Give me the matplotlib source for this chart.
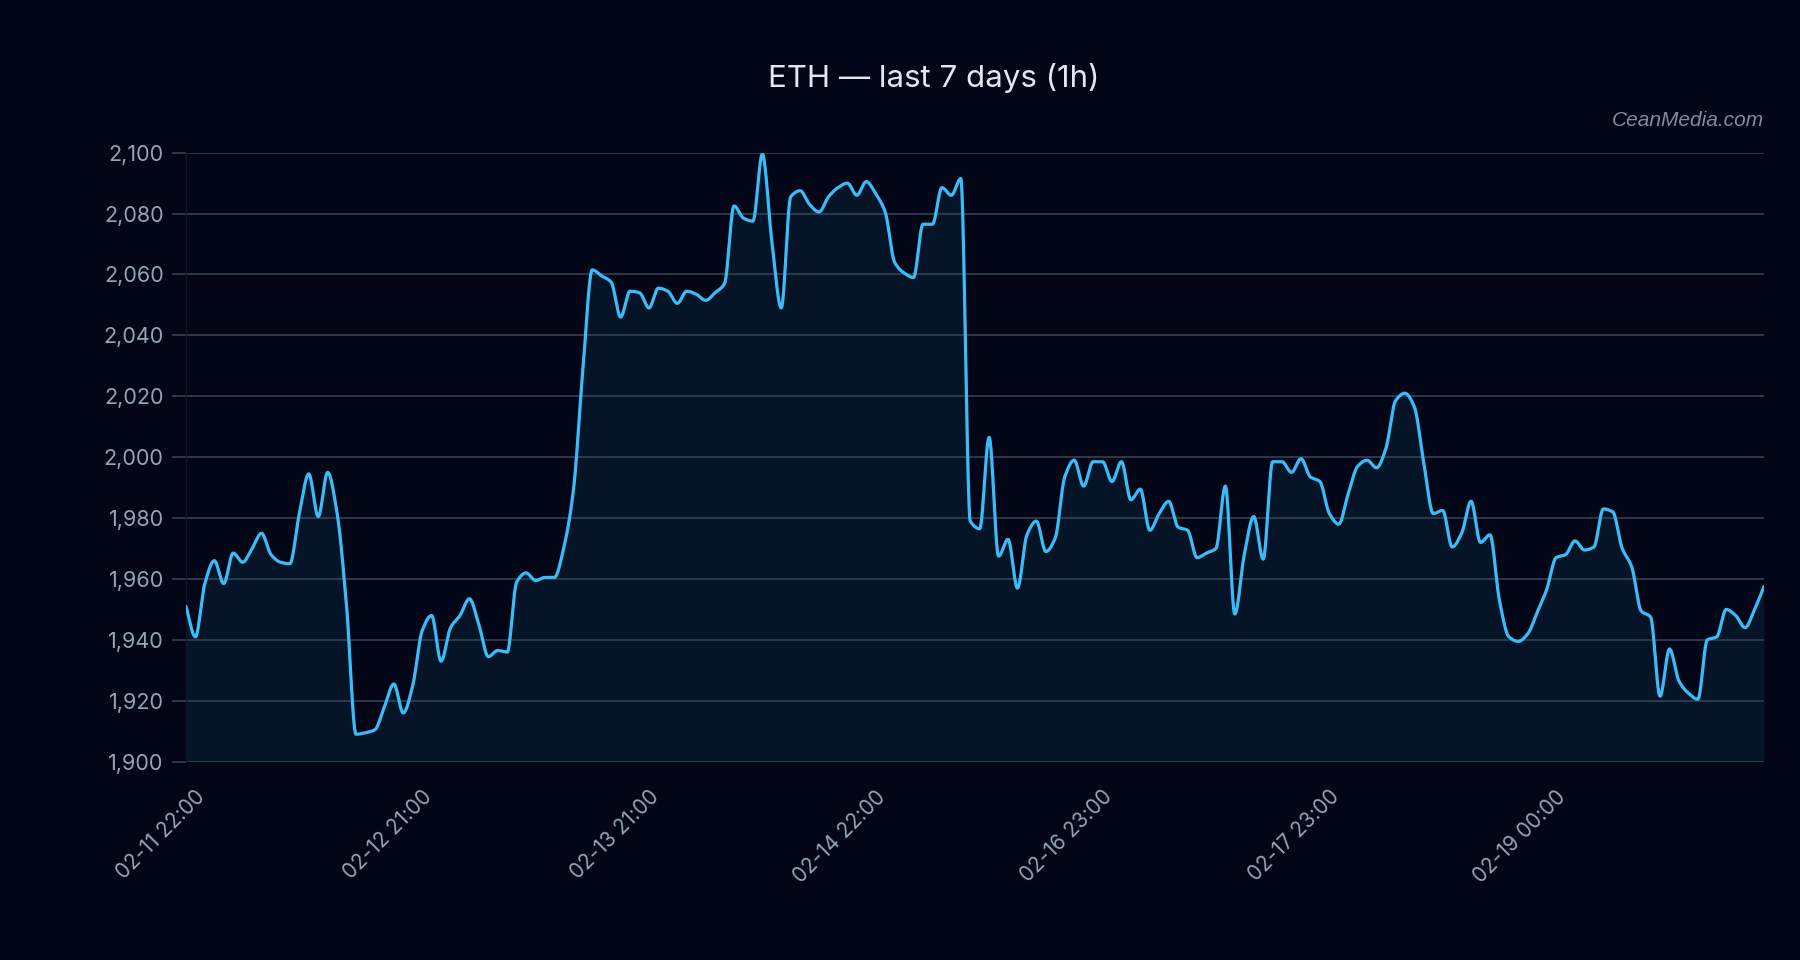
import numpy as np
import matplotlib
matplotlib.use("Agg")
import matplotlib.pyplot as plt
from matplotlib.ticker import StrMethodFormatter, MultipleLocator
from matplotlib.transforms import ScaledTranslation

# hourly ETH closes (168 points)
prices = [
    1951, 1941, 1958.5, 1966, 1958.5, 1968.5, 1965.5, 1970, 1975, 1968, 1965.5, 1965,
    1981.5, 1994.5, 1980.5, 1995, 1981.5, 1951, 1909, 1909.5, 1910.5, 1918, 1925.5, 1916,
    1925, 1943, 1948, 1933, 1944, 1948, 1953.5, 1945, 1934.5, 1936.5, 1936, 1959,
    1962, 1959.5, 1960.5, 1960.5, 1970.5, 1989, 2028.5, 2061.5, 2059.5, 2057.5, 2046, 2054.5,
    2054, 2049, 2055.5, 2054.5, 2050.5, 2054.5, 2053.5, 2051.5, 2054, 2057, 2082.5, 2078.5,
    2077.5, 2099.5, 2071, 2049, 2085.5, 2087.5, 2083, 2080.5, 2085.5, 2088.5, 2090, 2086,
    2090.5, 2086.5, 2080.5, 2064, 2060.5, 2059, 2076.5, 2076.5, 2088.5, 2086, 2091.5, 1979,
    1976.5, 2006.5, 1967.5, 1973, 1957, 1974.5, 1979, 1969, 1973.5, 1993.5, 1999, 1990.5,
    1998.5, 1998.5, 1992, 1998.5, 1986, 1989.5, 1976, 1981.5, 1985.5, 1977, 1976, 1967,
    1968.5, 1970, 1990.5, 1948.5, 1968, 1980.5, 1966.5, 1998.5, 1998.5, 1995, 1999.5, 1993.5,
    1992, 1981.5, 1978, 1988, 1997, 1999, 1996.5, 2003, 2018.5, 2021, 2016.5, 1998,
    1981.5, 1982.5, 1970.5, 1975, 1985.5, 1972, 1974.5, 1953, 1941, 1939.5, 1942, 1949,
    1956.5, 1967, 1968, 1972.5, 1969.5, 1970.5, 1983, 1982, 1970, 1964, 1949.5, 1947.5,
    1921.5, 1937, 1926.5, 1922.5, 1920.5, 1940, 1941, 1950, 1948, 1944, 1950, 1957.5,
]
tick_labels = ["02-11 22:00", "02-12 21:00", "02-13 21:00", "02-14 22:00",
               "02-16 23:00", "02-17 23:00", "02-19 00:00"]
tick_step = 24

BG = "#020617"
LINE = "#38bdf8"
GRID = "#334155"
TXT = "#94a3b8"


def monotone_curve(y, per_seg=24):
    # Fritsch-Carlson monotone cubic, only for drawing a smooth line
    y = np.asarray(y, dtype=float)
    x = np.arange(len(y), dtype=float)
    d = np.diff(y)
    m = np.zeros_like(y)
    m[0], m[-1] = d[0], d[-1]
    for k in range(1, len(y) - 1):
        if d[k - 1] * d[k] > 0:
            m[k] = 2.0 / (1.0 / d[k - 1] + 1.0 / d[k])
    xs, ys = [], []
    t = np.linspace(0, 1, per_seg, endpoint=False)
    for k in range(len(y) - 1):
        h00 = 2 * t**3 - 3 * t**2 + 1
        h10 = t**3 - 2 * t**2 + t
        h01 = -2 * t**3 + 3 * t**2
        h11 = t**3 - t**2
        xs.append(x[k] + t)
        ys.append(h00 * y[k] + h10 * m[k] + h01 * y[k + 1] + h11 * m[k + 1])
    xs.append([x[-1]])
    ys.append([y[-1]])
    return np.concatenate(xs), np.concatenate(ys)


plt.rcParams["font.family"] = ["Inter", "DejaVu Sans"]

fig = plt.figure(figsize=(18, 9.6), dpi=100, facecolor=BG)
ax = fig.add_axes([0.1033, 0.2066, 0.8767, 0.6344], facecolor=BG)

xs, ys = monotone_curve(prices)
ax.fill_between(xs, ys, 1900, color=LINE, alpha=0.08, linewidth=0, zorder=1)
ax.plot(xs, ys, color=LINE, linewidth=2.3, solid_capstyle="round", zorder=3)

ax.set_xlim(0, len(prices) - 1)
ax.set_ylim(1900, 2100)
ax.yaxis.set_major_locator(MultipleLocator(20))
ax.yaxis.set_major_formatter(StrMethodFormatter("{x:,.0f}"))
ax.grid(axis="y", color=GRID, linewidth=1.2, zorder=0)

# x labels drawn as rotated texts so they can sit a bit right of each tick
ticks = list(range(0, len(prices), tick_step))
ax.set_xticks(ticks)
ax.set_xticklabels([])
lbl_tr = ax.get_xaxis_transform() + ScaledTranslation(0.16, -0.32, fig.dpi_scale_trans)
for pos, lab in zip(ticks, tick_labels):
    ax.text(pos, 0, lab, transform=lbl_tr, rotation=45, rotation_mode="anchor",
            ha="right", va="center", color=TXT, fontsize=15, clip_on=False)

ax.tick_params(axis="y", colors=GRID, labelcolor=TXT, labelsize=15.5,
               length=10, width=1.2, pad=6)
ax.tick_params(axis="x", length=0)

for side in ["top", "right", "bottom"]:
    ax.spines[side].set_visible(False)
ax.spines["left"].set_color("#0f172a")

fig.text(0.519, 0.919, "ETH \u2014 last 7 days (1h)", color="#e2e8f0",
         fontsize=22.5, ha="center", va="center")
fig.text(0.98, 0.875, "CeanMedia.com", color=TXT, alpha=0.85, fontsize=15,
         style="italic", ha="right", va="center", family=["Liberation Sans", "DejaVu Sans"])

fig.savefig("out.png", dpi=100, facecolor=BG)
